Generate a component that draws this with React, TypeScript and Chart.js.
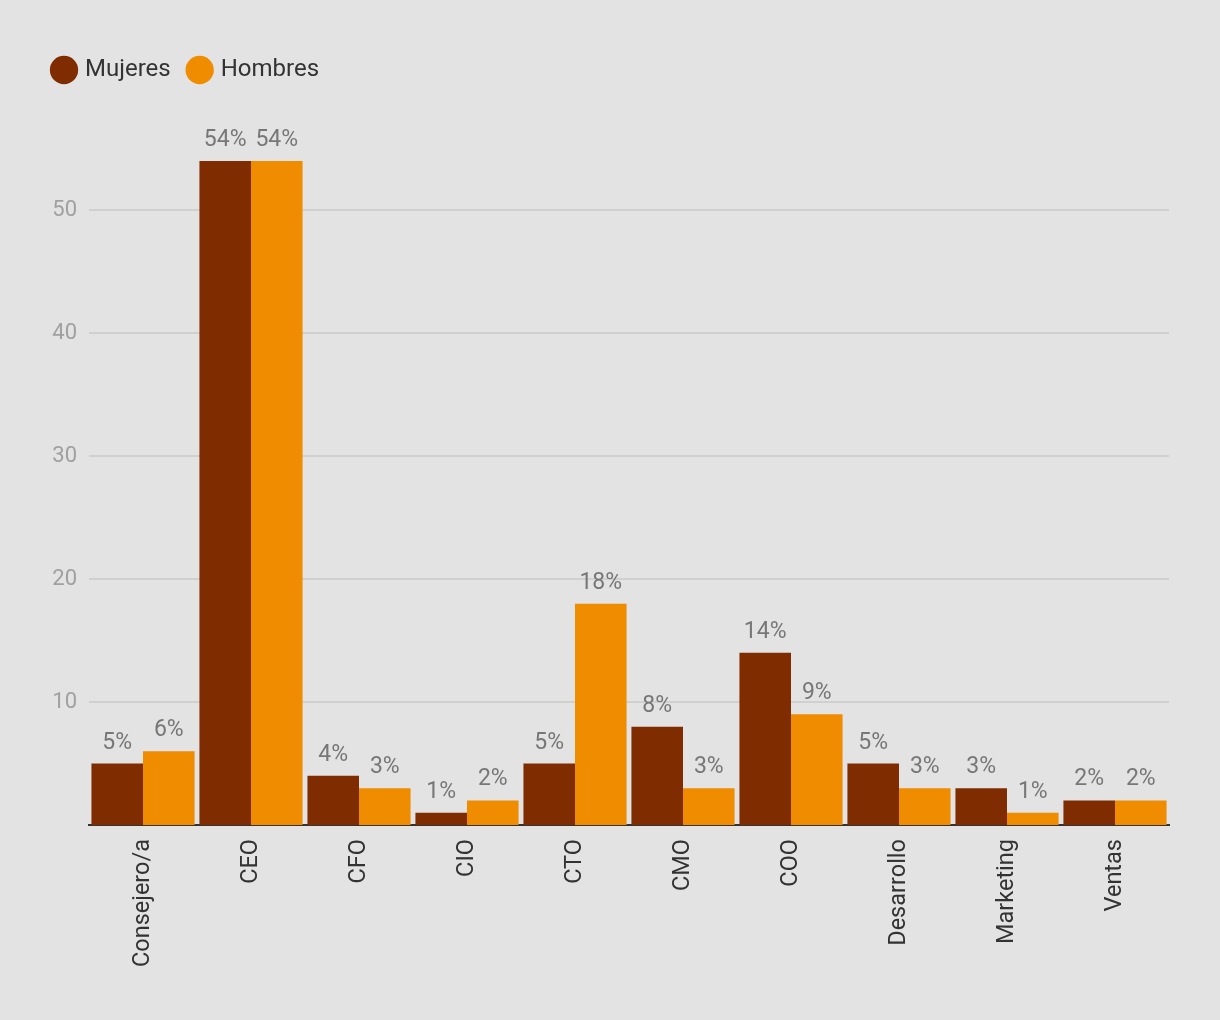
import React, { useEffect, useRef } from "react";
import { Chart, registerables } from "chart.js";

Chart.register(...registerables);

const categories = ["Consejero/a", "CEO", "CFO", "CIO", "CTO", "CMO", "COO", "Desarrollo", "Marketing", "Ventas"];
const mujeres = [5, 54, 4, 1, 5, 8, 14, 5, 3, 2];
const hombres = [6, 54, 3, 2, 18, 3, 9, 3, 1, 2];
const yTicks = [10, 20, 30, 40, 50];

const FONT = "Roboto";

const valueLabels = {
  id: "valueLabels",
  afterDatasetsDraw(chart: any) {
    const ctx = chart.ctx;
    ctx.save();
    ctx.font = `23px ${FONT}`;
    ctx.fillStyle = "#777777";
    ctx.textAlign = "center";
    ctx.textBaseline = "alphabetic";
    chart.data.datasets.forEach((ds: any, i: number) => {
      const meta = chart.getDatasetMeta(i);
      meta.data.forEach((bar: any, j: number) => {
        ctx.fillText(`${ds.data[j]}%`, bar.x, bar.y - 15);
      });
    });
    ctx.restore();
  },
};

export default function App() {
  const ref = useRef<HTMLCanvasElement>(null);
  useEffect(() => {
    document.body.style.margin = "0";
    const chart = new Chart(ref.current!, {
      type: "bar",
      data: {
        labels: categories,
        datasets: [
          { label: "Mujeres", data: mujeres, backgroundColor: "#7f2c00", borderWidth: 0 },
          { label: "Hombres", data: hombres, backgroundColor: "#f08c00", borderWidth: 0 },
        ],
      },
      options: {
        responsive: false,
        animation: false,
        layout: { padding: { left: 35, right: 51, top: 38, bottom: 47 } },
        plugins: {
          legend: {
            position: "top",
            align: "start",
            labels: {
              usePointStyle: true,
              pointStyle: "circle",
              boxWidth: 18,
              boxHeight: 20,
              padding: 20,
              color: "#333333",
              font: { size: 24, family: FONT },
            },
          },
          tooltip: { enabled: false },
        },
        datasets: { bar: { categoryPercentage: 0.955, barPercentage: 1 } },
        scales: {
          x: {
            grid: { display: false },
            border: { color: "#333333", width: 2 },
            ticks: {
              minRotation: 90,
              maxRotation: 90,
              color: "#333333",
              padding: 6,
              font: { size: 23.5, family: FONT },
            },
          },
          y: {
            min: 0,
            max: 59.6,
            afterBuildTicks: (axis: any) => {
              axis.ticks = yTicks.map((v) => ({ value: v }));
            },
            afterFit: (axis: any) => {
              axis.width = 54;
            },
            grid: { color: "#d0d0d0", lineWidth: 2, drawTicks: false },
            border: { display: false },
            ticks: {
              color: "#a0a0a0",
              padding: 12,
              font: { size: 22, family: FONT },
            },
          },
        },
      },
      plugins: [valueLabels],
    });
    return () => chart.destroy();
  }, []);
  return (
    <div style={{ position: "absolute", left: 0, top: 0, width: 1220, height: 1020, background: "#e3e3e3" }}>
      <canvas ref={ref} width={1220} height={1020} />
    </div>
  );
}
